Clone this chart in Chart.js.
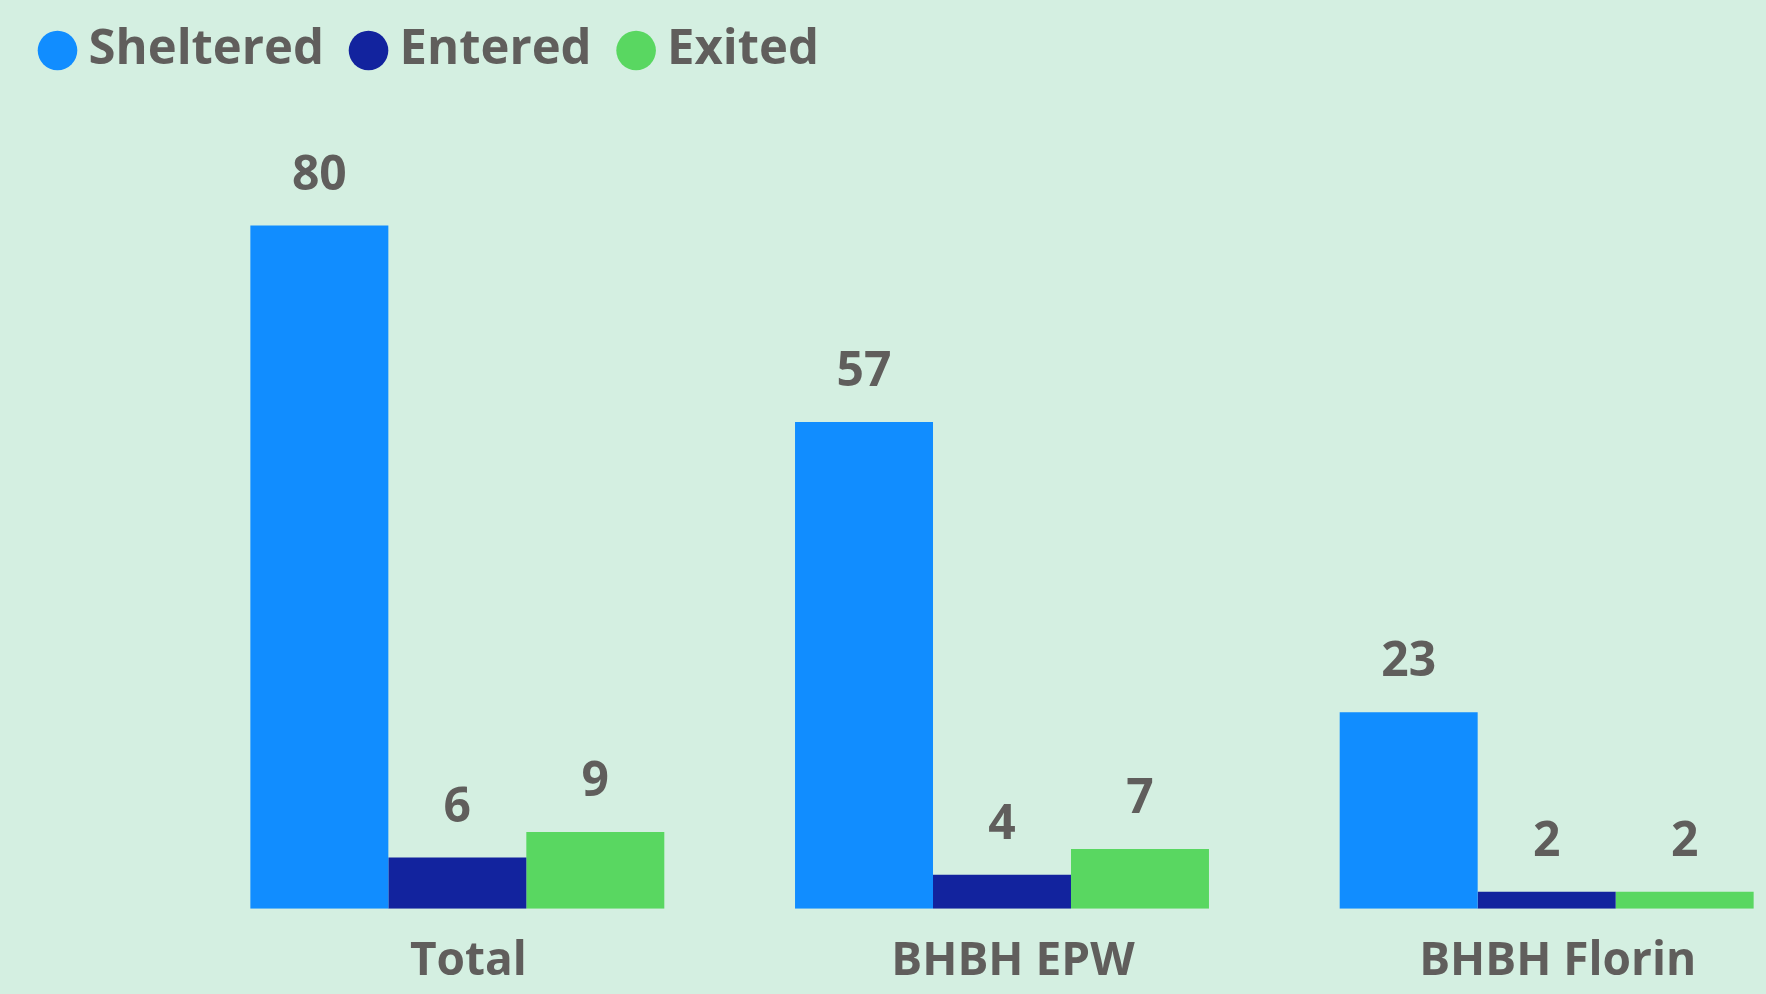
<!DOCTYPE html>
<html>
<head>
<meta charset="utf-8">
<script src="https://cdn.jsdelivr.net/npm/chart.js@4/dist/chart.umd.min.js"></script>
<style>
  html, body { margin: 0; padding: 0; width: 1766px; height: 994px; overflow: hidden; background: #D4EFE1; }
  #wrap { position: absolute; left: 13px; top: -12px; width: 1816px; height: 1038px; }
</style>
</head>
<body>
<div id="wrap"><canvas id="grafik"></canvas></div>
<script>
// data
const kategori = ['Total', 'BHBH EPW', 'BHBH Florin'];
const sheltered = [80, 57, 23];
const entered = [6, 4, 2];
const exited = [9, 7, 2];

const warnaTeks = '#605E5C';
const namaFont = "'Segoe UI Semibold', 'Open Sans', sans-serif";

// label angka di atas batang
const labelNilai = {
  id: 'labelNilai',
  afterDatasetsDraw(chart) {
    const ctx = chart.ctx;
    ctx.save();
    ctx.fillStyle = warnaTeks;
    ctx.font = 'bold 48px ' + namaFont;
    ctx.textAlign = 'center';
    ctx.textBaseline = 'alphabetic';
    chart.data.datasets.forEach((ds, i) => {
      const meta = chart.getDatasetMeta(i);
      meta.data.forEach((bar, j) => {
        ctx.fillText(ds.data[j], bar.x, bar.y - 36);
      });
    });
    ctx.restore();
  }
};

const ctx = document.getElementById('grafik').getContext('2d');
new Chart(ctx, {
  type: 'bar',
  data: {
    labels: kategori,
    datasets: [
      { label: 'Sheltered', data: sheltered, backgroundColor: '#118DFF' },
      { label: 'Entered', data: entered, backgroundColor: '#12239E' },
      { label: 'Exited', data: exited, backgroundColor: '#59D761' }
    ]
  },
  options: {
    responsive: true,
    maintainAspectRatio: false,
    animation: false,
    layout: { padding: { right: 10, bottom: 12 } },
    datasets: {
      bar: { categoryPercentage: 0.76, barPercentage: 1.0 }
    },
    plugins: {
      legend: {
        position: 'top',
        align: 'start',
        labels: {
          usePointStyle: true,
          pointStyle: 'circle',
          boxWidth: 13,
          boxHeight: 28,
          padding: 38,
          color: warnaTeks,
          font: { size: 49, weight: 'bold', family: namaFont }
        }
      },
      tooltip: { enabled: false }
    },
    scales: {
      x: {
        grid: { display: false, drawTicks: false },
        border: { display: false },
        ticks: {
          color: warnaTeks,
          padding: 25,
          labelOffset: 11,
          maxRotation: 0,
          font: { size: 46, weight: 'bold', family: namaFont }
        }
      },
      y: {
        min: 0,
        max: 96.45,
        grid: { display: false },
        border: { display: false },
        ticks: { display: false },
        afterFit: (scale) => { scale.width = 172; }
      }
    }
  },
  plugins: [labelNilai]
});
</script>
</body>
</html>
